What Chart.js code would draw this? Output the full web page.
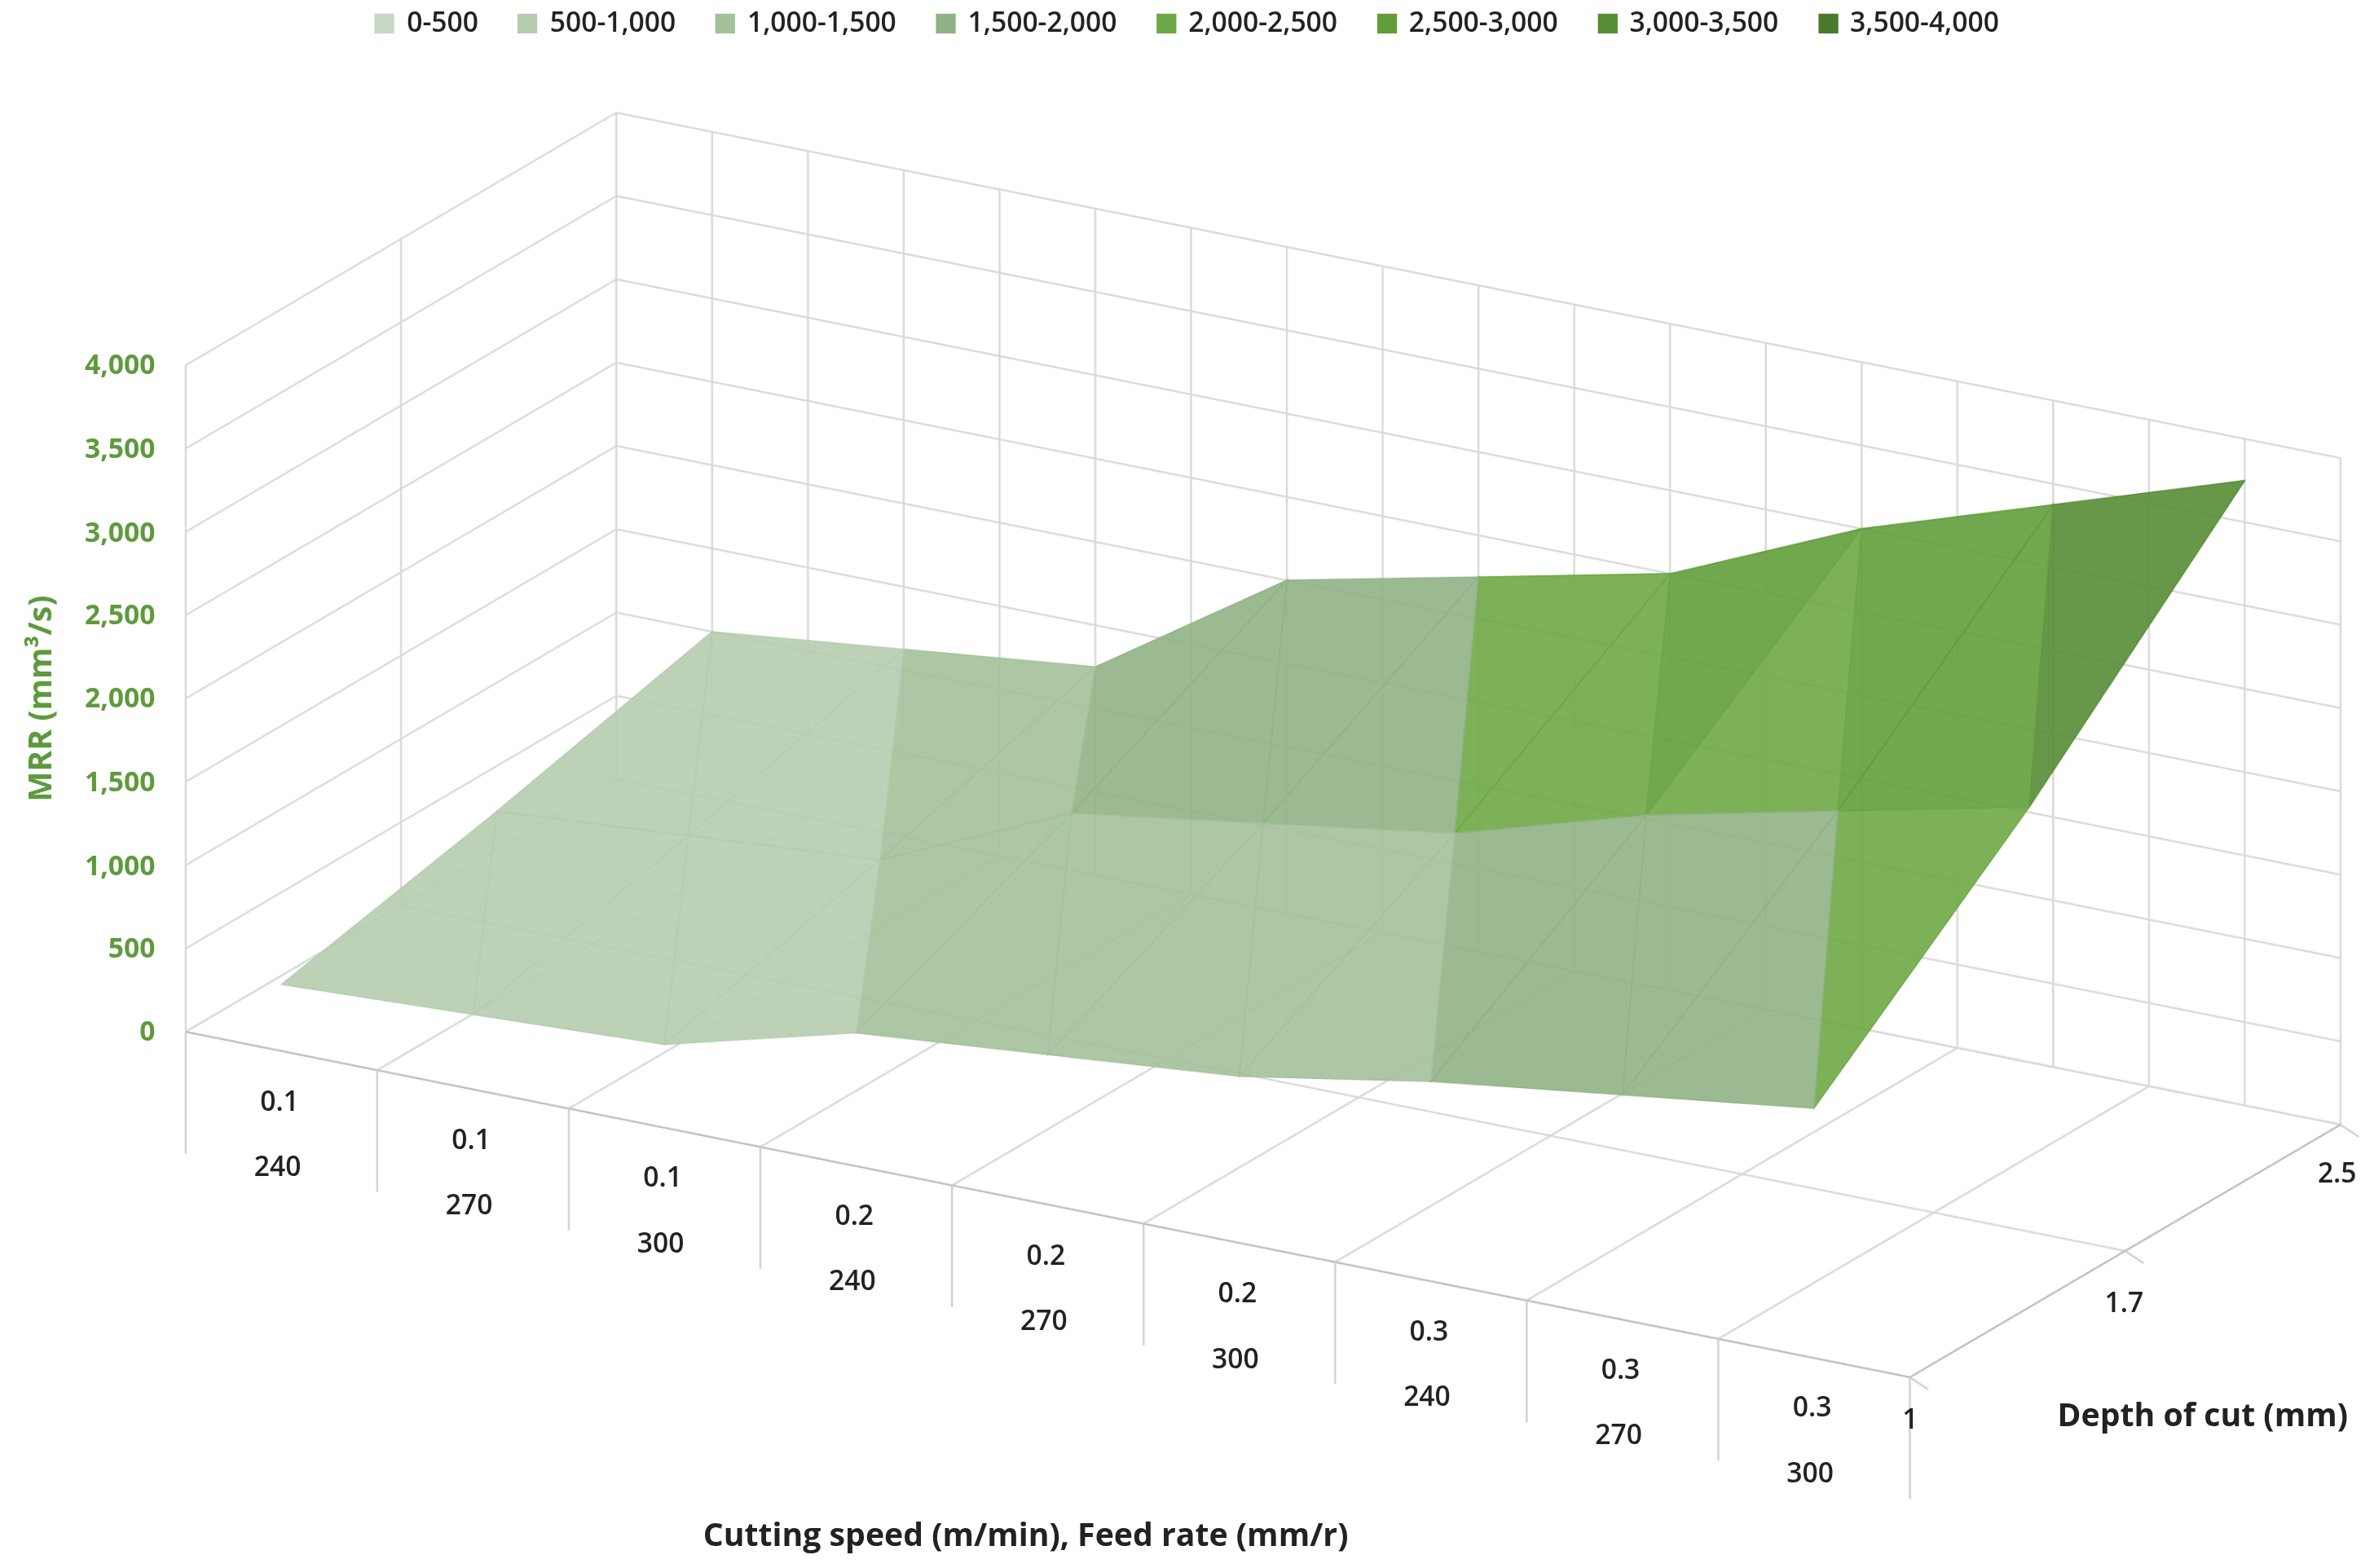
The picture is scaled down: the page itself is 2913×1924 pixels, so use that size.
<!DOCTYPE html>
<html><head><meta charset="utf-8">
<script src="https://cdn.jsdelivr.net/npm/chart.js@4.4.0/dist/chart.umd.min.js"></script>
<style>
html,body{margin:0;padding:0;background:#fff;overflow:hidden}
#wrap{position:absolute;left:0;top:0;width:1560px;height:1030px;transform:scale(1.8673);transform-origin:0 0;font-family:"Open Sans",sans-serif}
#cv{position:absolute;left:0;top:0;width:1560px;height:1030px}
.t{position:absolute;white-space:nowrap;font-size:18px;color:#222;font-weight:600}
.lg{position:absolute;top:2px;left:0;width:1560px;display:flex;justify-content:center;gap:26px;font-size:18px;font-weight:600;color:#222}
.lg span.b{display:inline-block;width:13px;height:13px;margin-right:8px;vertical-align:-1px}
</style></head><body>
<div id="wrap"><div id="cv"><canvas id="c"></canvas></div><div class="lg" id="lg"></div></div>
<script>
const categories=[["0.1","240"],["0.1","270"],["0.1","300"],["0.2","240"],["0.2","270"],["0.2","300"],["0.3","240"],["0.3","270"],["0.3","300"]];
const depths=["1","1.7","2.5"];
const mrrDepth1=[400,450,500,800,900,1000,1200,1350,1500];
const mrrDepth17=[680,765,850,1360,1530,1700,2040,2295,2550];
const mrrDepth25=[1000,1125,1250,2000,2250,2500,3000,3375,3750];
const zTicks=[0,500,1000,1500,2000,2500,3000,3500,4000];
const bandLabels=["0-500","500-1,000","1,000-1,500","1,500-2,000","2,000-2,500","2,500-3,000","3,000-3,500","3,500-4,000"];
const bandColors=["#c8d8c2","#b6ccaf","#a4c19b","#90b385","#6ea846","#629d3b","#578d35","#4b7a2d"];
const rows=[mrrDepth1,mrrDepth17,mrrDepth25];

// projection geometry (in 1560x1030 layout units)
const F0=[122,678],F1=[1255,905],B0=[405,512],H=438,ZMAX=4000;
function proj(u,w,z){return [F0[0]+u*(F1[0]-F0[0])+w*(B0[0]-F0[0]), F0[1]+u*(F1[1]-F0[1])+w*(B0[1]-F0[1])-z/ZMAX*H];}

const lg=document.getElementById('lg');
bandLabels.forEach((l,i)=>{const d=document.createElement('div');d.innerHTML='<span class="b" style="background:'+bandColors[i]+'"></span>'+l;lg.appendChild(d);});
const wrap=document.getElementById('wrap');
function txt(s,x,y,style){const d=document.createElement('div');d.className='t';d.textContent=s;d.style.left=x+'px';d.style.top=y+'px';if(style)d.style.cssText+=style;wrap.appendChild(d);return d;}
zTicks.forEach(z=>{const p=proj(0,0,z);const d=txt(z.toLocaleString('en-US'),0,p[1]-13,'width:102px;text-align:right;color:#5e9a3c;font-weight:700');});
txt("MRR (mm³/s)",-42,445,'transform:rotate(-90deg);font-size:21px;color:#5e9a3c;font-weight:700');
categories.forEach((c,i)=>{const u=(i+0.5)/9;const p=proj(u,0,0);txt(c[0],p[0]-14,p[1]+20);txt(c[1],p[0]-18,p[1]+63);});
txt("1",1250,920);txt("1.7",1383,843);txt("2.5",1523,758);
txt("Depth of cut (mm)",1352,915,'font-size:21px;font-weight:700');
txt("Cutting speed (m/min), Feed rate (mm/r)",462,994,'font-size:21px;font-weight:700');

const grid='#d9d9d9';
const plug={id:'surf',afterDatasetsDraw(ch){
 const ctx=ch.ctx,sx=ch.scales.x,sy=ch.scales.y;
 const P=(u,w,z)=>{const q=proj(u,w,z);return [sx.getPixelForValue(q[0]),sy.getPixelForValue(q[1])];};
 const line=(a,b,c)=>{ctx.beginPath();ctx.moveTo(a[0],a[1]);ctx.lineTo(b[0],b[1]);ctx.strokeStyle=c||grid;ctx.lineWidth=1.3;ctx.stroke();};
 ctx.save();
 // back wall & left wall
 zTicks.forEach(z=>{line(P(0,0,z),P(0,1,z));line(P(0,1,z),P(1,1,z));});
 for(let k=0;k<=18;k++)line(P(k/18,1,0),P(k/18,1,ZMAX));
 [0,0.5,1].forEach(w=>line(P(0,w,0),P(0,w,ZMAX)));
 // floor
 for(let k=0;k<=9;k++)line(P(k/9,0,0),P(k/9,1,0));
 [0.5,1].forEach(w=>line(P(0,w,0),P(1,w,0)));
 line(P(0,0,0),P(1,0,0),'#bfbfbf');line(P(1,0,0),P(1,1,0),'#bfbfbf');
 // category ticks below front edge
 for(let k=0;k<=9;k++){const a=P(k/9,0,0);const b=[a[0],a[1]+sy.getPixelForValue(80)-sy.getPixelForValue(0)];line(a,b,'#d0d0d0');}
 // depth ticks
 [0,0.5,1].forEach(w=>{const a=P(1,w,0);line(a,[a[0]+sx.getPixelForValue(12)-sx.getPixelForValue(0),a[1]+(sy.getPixelForValue(8)-sy.getPixelForValue(0))],'#d0d0d0');});
 // surface triangles, back to front
 const tri=(a,b,c)=>{const z=(a[2]+b[2]+c[2])/3;const bi=Math.min(7,Math.floor(z/500));
  const pa=P(a[0],a[1],a[2]),pb=P(b[0],b[1],b[2]),pc=P(c[0],c[1],c[2]);
  ctx.beginPath();ctx.moveTo(pa[0],pa[1]);ctx.lineTo(pb[0],pb[1]);ctx.lineTo(pc[0],pc[1]);ctx.closePath();
  ctx.globalAlpha=0.9;ctx.fillStyle=bandColors[bi];ctx.fill();ctx.globalAlpha=1;ctx.strokeStyle=bandColors[bi];ctx.lineWidth=0.8;ctx.stroke();};
 for(let j=1;j>=0;j--){for(let i=0;i<8;i++){
  const u0=(i+0.5)/9,u1=(i+1.5)/9,w0=j/2,w1=(j+1)/2;
  const a=[u0,w1,rows[j+1][i]],b=[u1,w1,rows[j+1][i+1]],c=[u0,w0,rows[j][i]],d=[u1,w0,rows[j][i+1]];
  tri(a,b,d);tri(a,d,c);}}
 ctx.restore();
}};
new Chart(document.getElementById('c'),{type:'scatter',data:{datasets:[{data:[]}]},
 options:{responsive:true,maintainAspectRatio:false,animation:false,devicePixelRatio:2,layout:{padding:0},
  plugins:{legend:{display:false},tooltip:{enabled:false}},
  scales:{x:{type:'linear',min:0,max:1560,display:false},y:{type:'linear',min:0,max:1030,reverse:true,display:false}}},
 plugins:[plug]});
</script></body></html>
